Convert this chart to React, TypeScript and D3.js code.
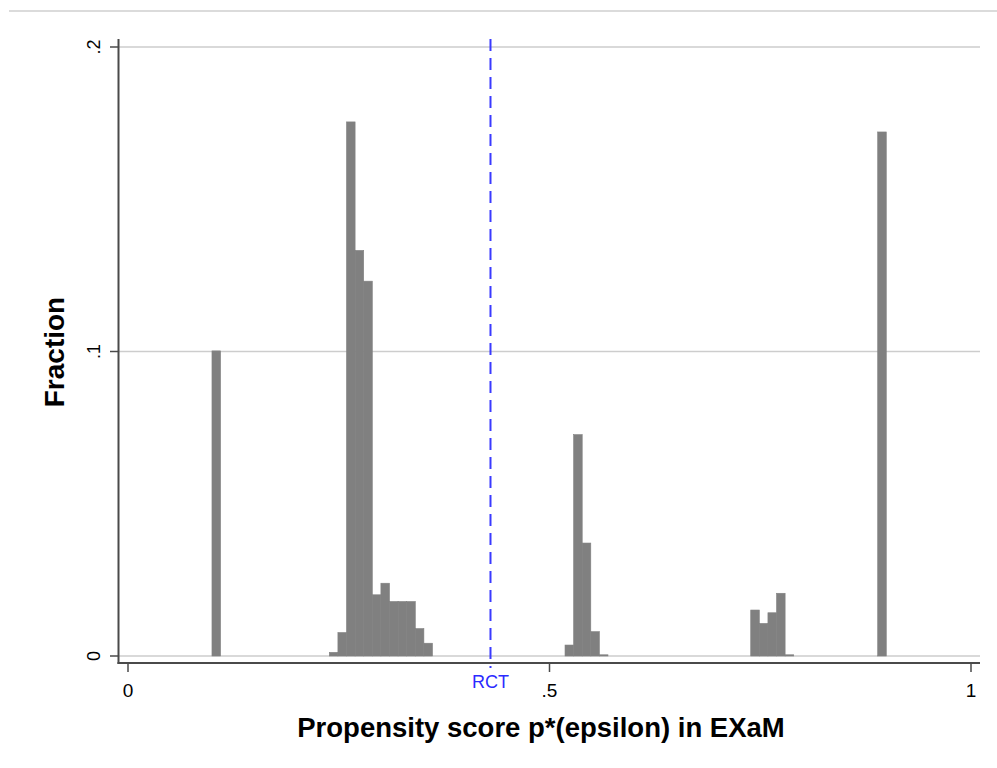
import React from 'react';
import * as d3 from 'd3';

// histogram bins (left edge on the propensity scale) and fraction per bin
const binWidth = 0.0102;
const binStarts = [
  0.0996,
  0.2388, 0.249, 0.2592, 0.2694, 0.2796, 0.2898, 0.3, 0.3102, 0.3204, 0.3306, 0.3408, 0.351,
  0.5184, 0.5286, 0.5388, 0.549, 0.5592,
  0.7387, 0.7489, 0.7591, 0.7693, 0.7795,
  0.8893,
];
const fractions = [
  0.1002,
  0.0012, 0.0077, 0.1754, 0.1332, 0.1231, 0.0201, 0.0239, 0.0179, 0.0179, 0.0179, 0.009, 0.0042,
  0.0036, 0.0727, 0.0371, 0.008, 0.0004,
  0.0151, 0.0107, 0.0142, 0.0206, 0.0004,
  0.1721,
];

const xTicks = [0, 0.5, 1];
const xTickLabels = ['0', '.5', '1'];
const yTicks = [0, 0.1, 0.2];
const yTickLabels = ['0', '.1', '.2'];
const rctValue = 0.43;

const W = 997;
const H = 768;
const font = '"Liberation Sans", Arial, Helvetica, sans-serif';

const App = () => {
  const x = d3.scaleLinear().domain([0, 1]).range([128, 971]);
  const y = d3.scaleLinear().domain([0, 0.2]).range([656, 47]);

  const plotLeft = 118.5;
  const plotRight = 980;
  const axisY = 663;

  return (
    <svg
      width={W}
      height={H}
      style={{ position: 'absolute', left: 0, top: 0, background: '#fff' }}
      fontFamily={font}
    >
      {/* page border line on top */}
      <line x1={9} x2={W} y1={11} y2={11} stroke="#cfcfcf" strokeWidth={1.5} />

      {/* grid */}
      {yTicks.map((t) => (
        <line key={'g' + t} x1={plotLeft} x2={plotRight} y1={y(t)} y2={y(t)} stroke="#cdcdcd" strokeWidth={1.4} />
      ))}

      {/* bars */}
      {binStarts.map((b, i) => (
        <rect
          key={i}
          x={x(b)}
          width={x(b + binWidth) - x(b)}
          y={y(fractions[i])}
          height={y(0) - y(fractions[i])}
          fill="#808080"
          stroke="#808080"
          strokeWidth={0.6}
        />
      ))}

      {/* y axis */}
      <line x1={plotLeft} x2={plotLeft} y1={39} y2={axisY + 1} stroke="#4a4a4a" strokeWidth={2} />
      {yTicks.map((t, i) => (
        <g key={'y' + t}>
          <line x1={110} x2={plotLeft} y1={y(t)} y2={y(t)} stroke="#4a4a4a" strokeWidth={1.5} />
          <text
            transform={`translate(100,${y(t)}) rotate(-90)`}
            textAnchor="middle"
            fontSize={18}
            fill="#000"
          >
            {yTickLabels[i]}
          </text>
        </g>
      ))}

      {/* x axis */}
      <line x1={plotLeft - 1} x2={plotRight} y1={axisY} y2={axisY} stroke="#4a4a4a" strokeWidth={2} />
      {xTicks.map((t, i) => (
        <g key={'x' + t}>
          <line x1={x(t)} x2={x(t)} y1={axisY} y2={axisY + 9} stroke="#4a4a4a" strokeWidth={1.5} />
          <text x={x(t)} y={697} textAnchor="middle" fontSize={19} fill="#000">
            {xTickLabels[i]}
          </text>
        </g>
      ))}

      {/* RCT reference line */}
      <line
        x1={x(rctValue)}
        x2={x(rctValue)}
        y1={39}
        y2={668}
        stroke="#3a3aff"
        strokeWidth={2}
        strokeDasharray="12 7"
      />
      <text x={x(rctValue)} y={688} textAnchor="middle" fontSize={18} fill="#2b2bff">
        RCT
      </text>

      {/* axis titles */}
      <text x={541} y={737} textAnchor="middle" fontSize={27.5} fontWeight="bold" fill="#000">
        Propensity score p*(epsilon) in EXaM
      </text>
      <text
        transform={`translate(64,352) rotate(-90)`}
        textAnchor="middle"
        fontSize={28}
        fontWeight="bold"
        fill="#000"
      >
        Fraction
      </text>
    </svg>
  );
};

export default App;
